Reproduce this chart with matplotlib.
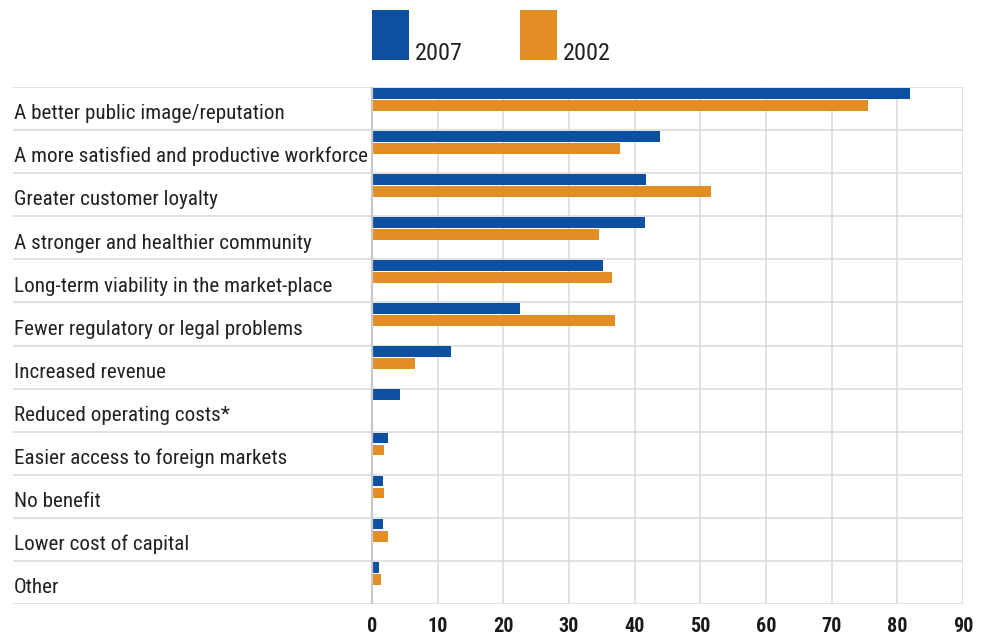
import matplotlib
matplotlib.use("Agg")
import matplotlib.pyplot as plt
from matplotlib.patches import Rectangle

CATEGORIES = [
    "A better public image/reputation",
    "A more satisfied and productive workforce",
    "Greater customer loyalty",
    "A stronger and healthier community",
    "Long-term viability in the market-place",
    "Fewer regulatory or legal problems",
    "Increased revenue",
    "Reduced operating costs*",
    "Easier access to foreign markets",
    "No benefit",
    "Lower cost of capital",
    "Other",
]
VALUES_2007 = [81.9, 43.8, 41.8, 41.5, 35.2, 22.6, 12.1, 4.2, 2.5, 1.6, 1.6, 1.1]
VALUES_2002 = [75.5, 37.7, 51.7, 34.5, 36.6, 37.0, 6.5, 0.0, 1.8, 1.9, 2.4, 1.4]
SERIES = ["2007", "2002"]
XTICKS = list(range(0, 100, 10))

BLUE = "#0D4FA1"
ORANGE = "#E38E25"
GRID = "#d9d9d9"
TEXT = "#222222"
FONT = ["Roboto Condensed", "DejaVu Sans"]

W, H = 982, 635
fig = plt.figure(figsize=(W / 100, H / 100), dpi=100)

# axes spans the label column too: x=0 sits at pixel 372, x=90 at 963
left_px, right_px, top_px, bottom_px = 13, 963, 87, 604
ax = fig.add_axes([left_px / W, 1 - bottom_px / H,
                   (right_px - left_px) / W, (bottom_px - top_px) / H])
px_per_unit = (right_px - 372) / 90.0
xmin = -(372 - left_px) / px_per_unit
ax.set_xlim(xmin, 90)
n = len(CATEGORIES)
ax.set_ylim(n, 0)
for s in ax.spines.values():
    s.set_visible(False)
ax.tick_params(length=0)
ax.set_yticks([])

# grid
for i in range(n + 1):
    ax.axhline(i, color=GRID, lw=1.1, zorder=0)
ax.vlines(XTICKS[1:], 0, n, color=GRID, lw=1.1, zorder=0)
ax.vlines(0, 0, n, color="#c8c8c8", lw=1.6, zorder=3)

rows = list(range(n))
bh = 0.25
ax.barh([r + 0.02 + bh / 2 for r in rows], VALUES_2007, height=bh,
        color=BLUE, zorder=2)
ax.barh([r + 0.30 + bh / 2 for r in rows], VALUES_2002, height=bh,
        color=ORANGE, zorder=2)

for r, label in zip(rows, CATEGORIES):
    ax.text(xmin + 0.1, r + 0.75, label, fontsize=15.2, family=FONT,
            color=TEXT, ha="left", va="baseline")

ax.set_xticks(XTICKS)
ax.set_xticklabels([str(t) for t in XTICKS], fontsize=14.5, family=FONT,
                   fontweight="bold", color="#1a1a1a")
ax.tick_params(axis="x", pad=9)

# legend: squares with text at the bottom right
for (x0, name, col) in [(372, SERIES[0], BLUE), (520, SERIES[1], ORANGE)]:
    fig.add_artist(Rectangle((x0 / W, 1 - 60 / H), 37 / W, 50 / H,
                             transform=fig.transFigure, color=col, lw=0))
    fig.text((x0 + 43) / W, 1 - 59.5 / H, name, fontsize=17.5, family=FONT,
             color=TEXT, ha="left", va="baseline")

fig.savefig("out.png", dpi=100)
